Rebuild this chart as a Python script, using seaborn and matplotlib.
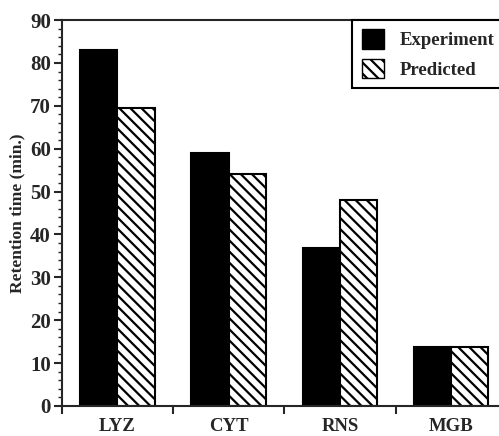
import pandas as pd
import seaborn as sns
import matplotlib.pyplot as plt
from matplotlib.ticker import MultipleLocator, FixedLocator
from matplotlib.patches import Patch

# 데이터
proteins = ['LYZ', 'CYT', 'RNS', 'MGB']
experiment = [83.0, 58.9, 36.8, 13.8]
predicted = [69.4, 54.2, 48.1, 13.8]
series = ['Experiment', 'Predicted']

df = pd.DataFrame({
    'protein': proteins * 2,
    'time': experiment + predicted,
    'kind': [series[0]] * len(proteins) + [series[1]] * len(proteins),
})

sns.set_style('ticks')
plt.rcParams['font.family'] = ['Liberation Serif', 'DejaVu Serif']
plt.rcParams['font.weight'] = 'bold'
plt.rcParams['hatch.linewidth'] = 1.6

fig = plt.figure(figsize=(4.99, 4.36), dpi=100)
ax = fig.add_axes([0.124, 0.069, 0.885, 0.885])

sns.barplot(data=df, x='protein', y='time', hue='kind', order=proteins,
            hue_order=series, palette=['black', 'white'], width=0.67,
            edgecolor='black', linewidth=1.5, saturation=1, ax=ax)

n = len(proteins)
for i, bar in enumerate(ax.patches[:2 * n]):
    if i >= n:
        bar.set_hatch('\\\\\\')

ax.set_ylim(0, 90)
ax.set_xlim(-0.5, 3.47)
ax.yaxis.set_major_locator(MultipleLocator(10))
ax.yaxis.set_minor_locator(MultipleLocator(2))
ax.xaxis.set_major_locator(FixedLocator([-0.5, 0.5, 1.5, 2.5]))
ax.set_xticklabels([])
ax.xaxis.set_minor_locator(FixedLocator(range(n)))
ax.set_xticklabels(proteins, minor=True)
ax.tick_params(axis='x', which='minor', length=0, pad=9, labelsize=13.5)
ax.tick_params(axis='x', which='major', length=6, width=1.5, direction='out')
ax.tick_params(axis='y', which='major', length=6, width=1.5, labelsize=15, pad=2)
ax.tick_params(axis='y', which='minor', length=3, width=1)

ax.set_xlabel('')
ax.set_ylabel('Retention time (min.)', fontsize=12.5, fontweight='bold', labelpad=3)

for s in ax.spines.values():
    s.set_linewidth(1.5)

handles = [Patch(facecolor='black', edgecolor='black', label='Experiment'),
           Patch(facecolor='white', edgecolor='black', hatch='\\\\\\', label='Predicted')]
leg = ax.legend(handles=handles, loc='upper right', fontsize=13.5, frameon=True,
                fancybox=False, edgecolor='black', borderaxespad=0,
                handlelength=1.2, handleheight=1.2, borderpad=0.5,
                labelspacing=0.5, handletextpad=0.8)
leg.get_frame().set_linewidth(1.5)
leg.get_frame().set_alpha(1)
for t in leg.get_texts():
    t.set_fontweight('bold')

plt.savefig('out.png', dpi=100)
